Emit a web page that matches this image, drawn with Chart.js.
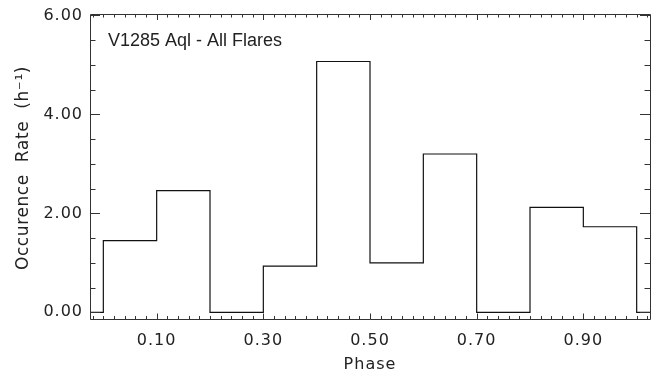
<!DOCTYPE html>
<html>
<head>
<meta charset="utf-8">
<script src="https://cdn.jsdelivr.net/npm/chart.js@4/dist/chart.umd.min.js"></script>
<style>
  html, body { margin: 0; padding: 0; background: #ffffff; }
  #c { display: block; }
</style>
</head>
<body>
<canvas id="c" width="652" height="374"></canvas>
<script>
// ---- data ----
const binEdges = [0.0, 0.1, 0.2, 0.3, 0.4, 0.5, 0.6, 0.7, 0.8, 0.9, 1.0];
const flareRates = [1.45, 2.46, 0.0, 0.935, 5.07, 1.0, 3.20, 0.0, 2.12, 1.73];
const xMajorTicks = [0.1, 0.3, 0.5, 0.7, 0.9];
const yMajorTicks = [0, 2, 4, 6];
const xMinorStep = 0.02;
const yMinorStep = 0.5;
const xRange = [-0.025, 1.025];
const yRange = [-0.145, 6.03];
const chartTitle = 'V1285 Aql - All Flares';
const xTitle = 'Phase';
const yTitle = 'Occurence  Rate  (h\u207B\u00B9)';

// histogram outline points (step style)
const pts = [{x: xRange[0], y: 0}, {x: binEdges[0], y: 0}];
for (let i = 0; i < flareRates.length; i++) pts.push({x: binEdges[i], y: flareRates[i]});
const lastEdge = binEdges[binEdges.length - 1];
pts.push({x: lastEdge, y: flareRates[flareRates.length - 1]});
pts.push({x: lastEdge, y: 0});
pts.push({x: xRange[1], y: 0});

const TEXT = '#222222';
const AXIS = '#333333';

const framePlugin = {
  id: 'frame',
  beforeDraw(chart) {
    chart.ctx.letterSpacing = '1px';
  },
  afterDraw(chart) {
    const ctx = chart.ctx, a = chart.chartArea;
    const xs = chart.scales.x, ys = chart.scales.y;
    ctx.save();
    ctx.strokeStyle = AXIS;
    ctx.lineWidth = 1;
    ctx.beginPath();
    ctx.rect(Math.round(a.left) + 0.5, Math.round(a.top) + 0.5,
             Math.round(a.right) - Math.round(a.left), Math.round(a.bottom) - Math.round(a.top) - 1);
    ctx.stroke();
    // x ticks (bottom and top)
    ctx.beginPath();
    for (let k = -5; k <= 60; k++) {
      const v = k * xMinorStep;
      if (v < xRange[0] || v > xRange[1]) continue;
      const px = Math.round(xs.getPixelForValue(v)) + 0.5;
      const major = xMajorTicks.some(t => Math.abs(t - v) < 1e-6);
      const len = major ? 6 : 3.5;
      ctx.moveTo(px, a.bottom); ctx.lineTo(px, a.bottom - len);
      ctx.moveTo(px, a.top); ctx.lineTo(px, a.top + len);
    }
    // y ticks (left and right)
    for (let k = -2; k <= 20; k++) {
      const v = k * yMinorStep;
      if (v < yRange[0] || v > yRange[1]) continue;
      const py = Math.round(ys.getPixelForValue(v)) + 0.5;
      const major = yMajorTicks.some(t => Math.abs(t - v) < 1e-6);
      const len = major ? 10 : 5.5;
      ctx.moveTo(a.left, py); ctx.lineTo(a.left + len, py);
      ctx.moveTo(a.right, py); ctx.lineTo(a.right - len, py);
    }
    ctx.stroke();

    // titles
    ctx.fillStyle = TEXT;
    ctx.letterSpacing = '0px';
    ctx.font = '18px "Liberation Sans", Arial, sans-serif';
    ctx.textAlign = 'left';
    ctx.textBaseline = 'alphabetic';
    ctx.fillText(chartTitle, 108, 46);

    ctx.letterSpacing = '1px';
    ctx.font = '16px "DejaVu Sans", sans-serif';
    ctx.textAlign = 'center';
    ctx.fillText(xTitle, (a.left + a.right) / 2, 369);

    ctx.letterSpacing = '0.6px';
    ctx.font = '17px "DejaVu Sans", sans-serif';
    ctx.translate(28, 168);
    ctx.rotate(-Math.PI / 2);
    ctx.fillText(yTitle, 0, 0);
    ctx.restore();
  }
};

new Chart(document.getElementById('c'), {
  type: 'line',
  data: {
    datasets: [{
      data: pts,
      stepped: 'before',
      borderColor: '#111111',
      borderWidth: 1.2,
      pointRadius: 0,
      fill: false,
      tension: 0
    }]
  },
  options: {
    responsive: false,
    animation: false,
    devicePixelRatio: 1,
    layout: { padding: { left: 0, right: 2, top: 14, bottom: 0 } },
    plugins: { legend: { display: false }, tooltip: { enabled: false }, title: { display: false } },
    scales: {
      x: {
        type: 'linear',
        min: xRange[0], max: xRange[1],
        grid: { display: false, drawTicks: false },
        border: { display: false },
        afterBuildTicks(s) { s.ticks = xMajorTicks.map(v => ({ value: v })); },
        afterFit(s) { s.height = 54.5; s.paddingLeft = 0; s.paddingRight = 0; },
        ticks: {
          color: TEXT,
          padding: 12,
          font: { family: '"DejaVu Sans", sans-serif', size: 16 },
          maxRotation: 0,
          callback: v => Number(v).toFixed(2)
        }
      },
      y: {
        type: 'linear',
        min: yRange[0], max: yRange[1],
        grid: { display: false, drawTicks: false },
        border: { display: false },
        afterBuildTicks(s) { s.ticks = yMajorTicks.map(v => ({ value: v })); },
        afterFit(s) { s.width = 90; s.paddingTop = 0; s.paddingBottom = 0; },
        ticks: {
          color: TEXT,
          padding: 7,
          font: { family: '"DejaVu Sans", sans-serif', size: 16 },
          callback: v => Number(v).toFixed(2)
        }
      }
    }
  },
  plugins: [framePlugin]
});
</script>
</body>
</html>
